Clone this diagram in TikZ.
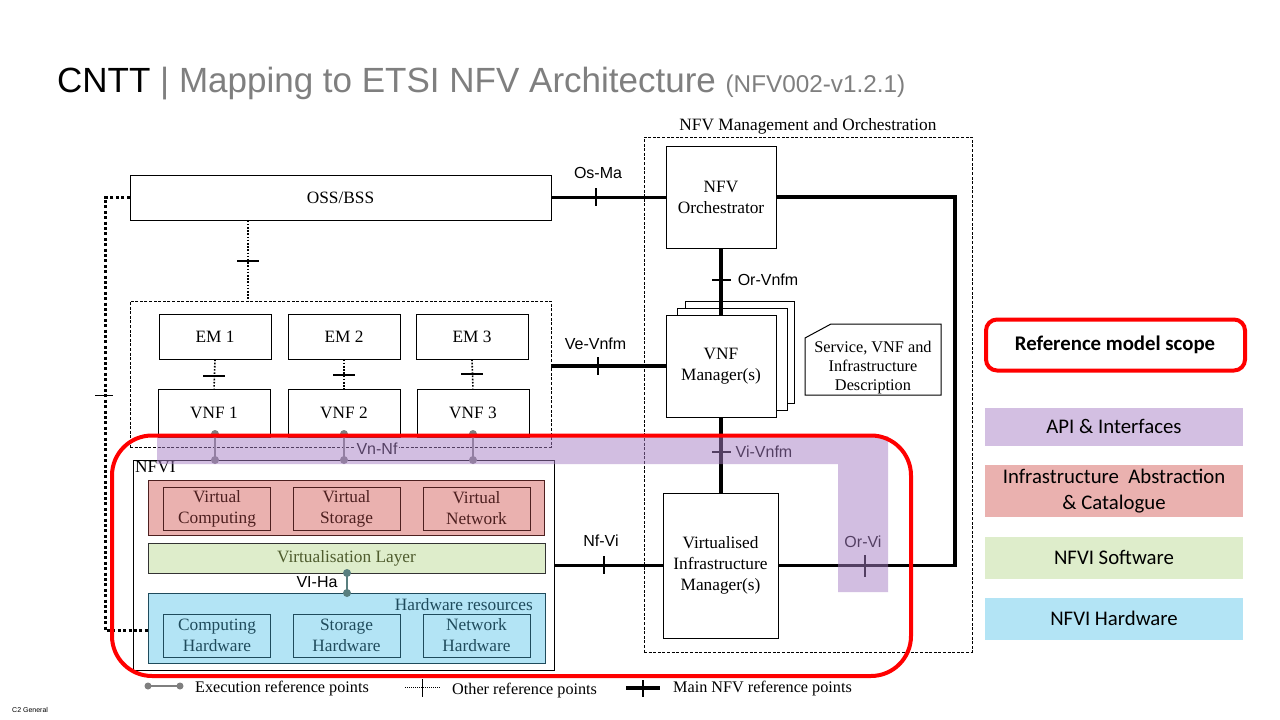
\documentclass[tikz,border=0pt]{standalone}
\usepackage{fontspec}
\setmainfont{Liberation Serif}
\newfontfamily\arial{Liberation Sans}
\newfontfamily\calib{Carlito}
\definecolor{pinkL}{HTML}{EAB1AF}
\definecolor{pinkT}{HTML}{4D1F1F}
\definecolor{greenL}{HTML}{DEEDCB}
\definecolor{greenT}{HTML}{4F5C2E}
\definecolor{blueL}{HTML}{B3E4F5}
\definecolor{blueT}{HTML}{1F4B5C}
\definecolor{purpO}{HTML}{A77FC5}
\definecolor{apiL}{HTML}{D3BFE2}
\definecolor{titleG}{HTML}{7F7F7F}
\definecolor{execG}{HTML}{7F7F7F}
\begin{document}
\begin{tikzpicture}[x=1pt,y=-1pt,
  serif/.style={font=\fontsize{17.3}{21}\selectfont},
  legserif/.style={font=\fontsize{16.2}{19}\selectfont},
  lbl/.style={font=\arial\fontsize{16}{18}\selectfont, inner sep=0pt},
  box/.style={draw=black, line width=1pt, fill=white, inner sep=0pt, align=center, serif},
  dbox/.style={draw=black, line width=0.9pt, dash pattern=on 3pt off 1.6pt, inner sep=0pt},
  mainline/.style={line width=3.3pt, black},
  tickm/.style={line width=1.1pt, black},
  dotline/.style={line width=1.6pt, dash pattern=on 1.6pt off 1.6pt},
  thickdot/.style={line width=3pt, dash pattern=on 3pt off 2.4pt},
  dtick/.style={line width=2.6pt, black},
  exec/.style={line width=2.6pt, execG},
  edot/.style={circle, fill=execG, inner sep=0pt, minimum size=8pt},
  legbox/.style={inner sep=0pt, minimum width=258pt, align=center, font=\calib\fontsize{20.8}{26}\selectfont},
]
\fill[white] (0,0) rectangle (1280,720);
\useasboundingbox (0,0) rectangle (1280,720);

% ---------- title ----------
\node[anchor=base west, inner sep=0pt, font=\arial\fontsize{35}{40}\selectfont] (title) at (57,92)
  {CNTT \textcolor{titleG}{| Mapping to ETSI NFV Architecture} \textcolor{titleG}{\fontsize{24.3}{26}\selectfont(NFV002-v1.2.1)}};
\node[anchor=base west, inner sep=0pt, font=\arial\fontsize{7}{8}\selectfont] (c2) at (12,712) {C2 General};

% ---------- MANO ----------
\node[dbox, minimum width=328pt, minimum height=515pt] (mano) at (808,394.5) {};
\node[anchor=base, inner sep=0pt, serif] (manot) at (808,130) {NFV Management and Orchestration};
\node[box, minimum width=110pt, minimum height=102pt] (orch) at (721,197) {NFV\\Orchestrator};
\node[box, minimum width=109pt, minimum height=102pt] (vnfm3) at (739.5,352) {};
\node[box, minimum width=110pt, minimum height=102pt] (vnfm2) at (732,359) {};
\node[box, minimum width=110pt, minimum height=102pt] (vnfm) at (721,366) {VNF\\Manager(s)};
\draw[line width=1pt, fill=white] (805,338) -- (831,324) -- (941,324) -- (941,395) -- (805,395) -- cycle;
\node[inner sep=0pt, align=center, font=\fontsize{16.3}{19}\selectfont] (desc) at (873,368) {Service, VNF and\\Infrastructure\\Description};
\node[box, minimum width=115pt, minimum height=145pt] (vim) at (720.5,565.5) {Virtualised\\Infrastructure\\Manager(s)};

% ---------- OSS & VNFs ----------
\node[box, minimum width=421pt, minimum height=45pt] (oss) at (340.5,197.5) {OSS/BSS};
\node[dbox, minimum width=421pt, minimum height=146pt] (grp) at (340.5,374) {};
\node[box, minimum width=112pt, minimum height=45pt] (em1) at (215,336.5) {EM 1};
\node[box, minimum width=112pt, minimum height=45pt] (em2) at (344,336.5) {EM 2};
\node[box, minimum width=112pt, minimum height=45pt] (em3) at (472,336.5) {EM 3};
\node[box, minimum width=112pt, minimum height=48pt] (vnf1) at (214,413) {VNF 1};
\node[box, minimum width=112pt, minimum height=48pt] (vnf2) at (344,413) {VNF 2};
\node[box, minimum width=112pt, minimum height=48pt] (vnf3) at (473,413) {VNF 3};

% ---------- NFVI ----------
\node[draw=black, line width=1pt, fill=white, minimum width=421pt, minimum height=210pt, inner sep=0pt] (nfvi) at (343.5,565) {};
\node[anchor=north west, inner sep=0pt, serif] (nfvit) at (135,461) {NFVI};
\node[draw=pinkT, fill=pinkL, line width=1pt, minimum width=396pt, minimum height=55pt, inner sep=0pt] (pink) at (346,507.5) {};
\node[box, draw=pinkT, fill=pinkL, text=pinkT, minimum width=107pt, minimum height=43pt] (vc) at (217,508.5) {Virtual\\Computing};
\node[box, draw=pinkT, fill=pinkL, text=pinkT, minimum width=107pt, minimum height=43pt] (vs) at (346.5,508.5) {Virtual\\Storage};
\node[box, draw=pinkT, fill=pinkL, text=pinkT, minimum width=107pt, minimum height=43pt] (vn) at (476.5,508.5) {Virtual\\Network};
\node[box, draw=black!80, fill=greenL, text=greenT, minimum width=397pt, minimum height=30pt] (green) at (346.5,558) {Virtualisation Layer};
\node[draw=blueT, fill=blueL, line width=1pt, minimum width=397pt, minimum height=70pt, inner sep=0pt] (blue) at (346.5,628) {};
\node[anchor=base east, inner sep=0pt, serif, text=blueT] (hwr) at (533,610) {Hardware resources};
\node[box, draw=blueT, fill=blueL, text=blueT, minimum width=107pt, minimum height=43pt] (ch) at (217,635.5) {Computing\\Hardware};
\node[box, draw=blueT, fill=blueL, text=blueT, minimum width=107pt, minimum height=43pt] (sh) at (346.5,635.5) {Storage\\Hardware};
\node[box, draw=blueT, fill=blueL, text=blueT, minimum width=107pt, minimum height=43pt] (nh) at (476.5,635.5) {Network\\Hardware};

% ---------- other reference points ----------
\coordinate (gx) at (248,0);
\coordinate (ossL) at (105,197.5);
\coordinate (ossB) at (105,630);
\draw[thickdot] (oss.west) -- (ossL) -- (ossB) -- (ossB -| blue.west);
\draw[line width=1pt] (95,395) -- (113,395);
\draw[dotline] (oss.south -| gx) -- (grp.north -| gx);
\draw[dtick] (237,261) -- (259,261);
\draw[dotline] (em1.south) -- (vnf1.north);
\draw[dtick] (203,376) -- (225,376);
\draw[dotline] (em2.south) -- (vnf2.north);
\draw[dtick] (333,375) -- (355,375);
\draw[dotline] (em3.south) -- (vnf3.north);
\draw[dtick] (461,374) -- (483,374);

% ---------- execution reference points ----------
\foreach \xx/\nm in {215/a,344/b,473/c}{
  \draw[exec] (\xx,434) -- (\xx,460);
  \node[edot] (ex\nm t) at (\xx,434) {};
  \node[edot] (ex\nm b) at (\xx,460) {};
}
\node[lbl, fill=white, inner sep=1.5pt] (vnnf) at (377,449) {Vn-Nf};
\draw[exec, draw=execG!70!teal] (green.south -| 347,0) -- (blue.north -| 347,0);
\node[edot, fill=execG!70!teal] (vha1) at (347,573) {};
\node[edot, fill=execG!70!teal] (vha2) at (347,593) {};
\node[lbl] (viha) at (317,582) {VI-Ha};

% ---------- main reference points ----------
\coordinate (orvi) at (955,197);
\draw[mainline] (oss.east) -- (oss.east -| orch.west);
\draw[mainline] (grp.east |- vnfm.west) -- (vnfm.west);
\draw[mainline] (orch.south) -- (vnfm.north);
\draw[mainline] (vnfm.south) -- (vim.north -| vnfm.south);
\draw[mainline] (nfvi.east |- vim.west) -- (vim.west);
\draw[mainline] (orch.east) -- (orvi) |- (vim.east);
\draw[tickm] (596,188) -- (596,206);
\draw[tickm] (598,357) -- (598,375);
\draw[tickm] (712,280) -- (731,280);
\draw[tickm] (712,452) -- (731,452);
\draw[tickm] (604,556) -- (604,574);
\draw[tickm] (865,555) -- (865,577);
\node[lbl] (osma) at (598,173) {Os-Ma};
\node[lbl] (vevnfm) at (595.5,344) {Ve-Vnfm};
\node[lbl] (orvnfm) at (768,280) {Or-Vnfm};
\node[lbl] (vivnfm) at (764,452) {Vi-Vnfm};
\node[lbl] (nfvil) at (601,541) {Nf-Vi};
\node[lbl] (orvil) at (863,542) {Or-Vi};

% ---------- purple overlay ----------
\fill[purpO, fill opacity=0.5] (157,436) -- (888,436) -- (888,592) -- (838,592) -- (838,464) -- (157,464) -- cycle;

% ---------- red scope ----------
\draw[red, line width=4pt, rounded corners=40pt] (112,435.5) rectangle (911,676);

% ---------- bottom legend ----------
\draw[exec] (148,686) -- (180,686);
\node[edot, minimum size=7pt] (le1) at (148,686) {};
\node[edot, minimum size=7pt] (le2) at (180,686) {};
\node[anchor=base west, inner sep=0pt, legserif] (lex) at (195,692) {Execution reference points};
\draw[line width=0.8pt, dash pattern=on 1pt off 1pt] (405,687) -- (440,687);
\draw[line width=1pt] (422,679) -- (422,697);
\node[anchor=base west, inner sep=0pt, legserif] (loth) at (452,694) {Other reference points};
\draw[line width=3.3pt] (626,688) -- (660,688);
\draw[line width=1.4pt] (643,680) -- (643,697);
\node[anchor=base west, inner sep=0pt, legserif] (lmain) at (673,692) {Main NFV reference points};

% ---------- right legend ----------
\draw[red, line width=4pt, rounded corners=11pt] (986,319.5) rectangle (1245,370.5);
\node[inner sep=0pt, font=\calib\bfseries\fontsize{20.8}{24}\selectfont] (rms) at (1115,345) {Reference model scope};
\node[legbox, fill=apiL, minimum height=38pt] (api) at (1114,426.5) {API \& Interfaces};
\node[legbox, fill=pinkL, minimum height=52pt] (iac) at (1114,491) {Infrastructure\ \ Abstraction\\\& Catalogue};
\node[legbox, fill=greenL, minimum height=42pt] (nsw) at (1114,557.5) {NFVI Software};
\node[legbox, fill=blueL, minimum height=42pt] (nhw) at (1114,618.5) {NFVI Hardware};
\end{tikzpicture}
\end{document}
